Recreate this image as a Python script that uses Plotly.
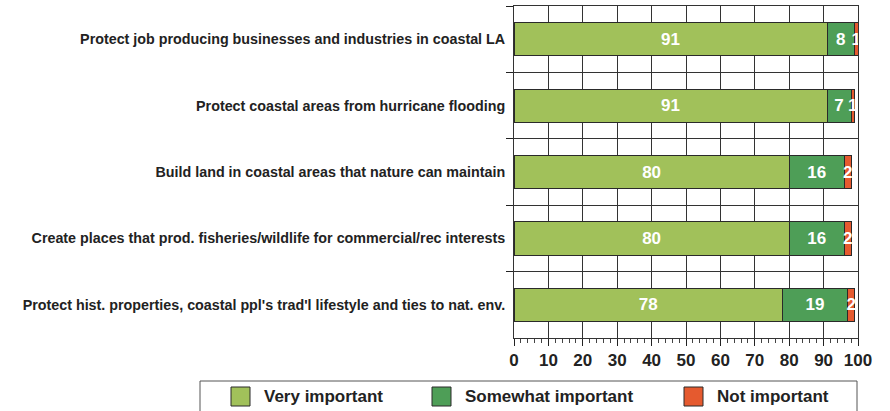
import plotly.graph_objects as go

categories = [
    "Protect job producing businesses and industries in coastal LA",
    "Protect coastal areas from hurricane flooding",
    "Build land in coastal areas that nature can maintain",
    "Create places that prod. fisheries/wildlife for commercial/rec interests",
    "Protect hist. properties, coastal ppl's trad'l lifestyle and ties to nat. env.",
]
very_important = [91, 91, 80, 80, 78]
somewhat_important = [8, 7, 16, 16, 19]
not_important = [1, 1, 2, 2, 2]
series_names = ["Very important", "Somewhat important", "Not important"]
colors = ["#A1C15A", "#4E9E57", "#E55A2F"]
x_ticks = list(range(0, 101, 10))

W, H = 890, 411
ML, MR, MT, MB = 514, 32, 6, 73
PW, PH = W - ML - MR, H - MT - MB


def px_x(p):
    return (p - ML) / PW


def px_y(p):
    return (H - MB - p) / PH


FONT = "Liberation Sans, Arial, sans-serif"
EDGE = "#2a2a2a"

fig = go.Figure()
for name, vals, col in zip(series_names, [very_important, somewhat_important, not_important], colors):
    fig.add_trace(go.Bar(
        y=categories, x=vals, name=name, orientation="h",
        marker=dict(color=col, line=dict(color=EDGE, width=1)),
        text=[str(v) for v in vals], textposition="inside",
        insidetextanchor="middle", constraintext="none", textangle=0,
        textfont=dict(color="white", size=17, family=FONT, weight="bold"),
        width=0.5, showlegend=False,
    ))

# Manual legend (box, swatches, labels)
shapes = [dict(type="rect", xref="paper", yref="paper",
               x0=px_x(200), x1=px_x(857), y0=px_y(381), y1=px_y(418),
               line=dict(color="#555555", width=1), fillcolor="rgba(0,0,0,0)", layer="above")]
annotations = []
swatch_left = [231, 432, 684]
for name, col, sx in zip(series_names, colors, swatch_left):
    shapes.append(dict(type="rect", xref="paper", yref="paper",
                       x0=px_x(sx), x1=px_x(sx + 19), y0=px_y(387), y1=px_y(406),
                       line=dict(color=EDGE, width=1), fillcolor=col, layer="above"))
    annotations.append(dict(xref="paper", yref="paper", x=px_x(sx + 31), y=px_y(396.5),
                            xanchor="left", yanchor="middle", showarrow=False, text=name,
                            font=dict(size=17, family=FONT, color="#222222", weight="bold")))

fig.update_layout(
    barmode="stack",
    width=W, height=H,
    margin=dict(l=ML, r=MR, t=MT, b=MB),
    paper_bgcolor="white", plot_bgcolor="white",
    showlegend=False,
    shapes=shapes, annotations=annotations,
)
fig.update_xaxes(
    range=[0, 100], tickvals=x_ticks, ticktext=[str(t) for t in x_ticks],
    showgrid=True, gridcolor="#333333", gridwidth=1,
    showline=True, linecolor="#333333", linewidth=1, mirror=True,
    ticks="outside", ticklen=7, tickcolor="#222222",
    minor=dict(dtick=2, ticks="outside", ticklen=4, tickcolor="#444444", showgrid=False),
    tickfont=dict(size=17, family=FONT, color="#222222", weight="bold"),
    zeroline=False, fixedrange=True,
)
fig.update_yaxes(
    autorange="reversed", tickson="boundaries",
    showgrid=True, gridcolor="#333333", gridwidth=1,
    showline=True, linecolor="#333333", linewidth=1, mirror=True,
    ticks="outside", ticklen=7, tickcolor="#222222",
    ticklabelstandoff=5,
    tickfont=dict(size=14.3, family=FONT, color="#222222", weight="bold"),
    fixedrange=True,
)

fig.write_html("out.html", config={"displayModeBar": False},
               post_script="document.body.style.margin='0px';")
